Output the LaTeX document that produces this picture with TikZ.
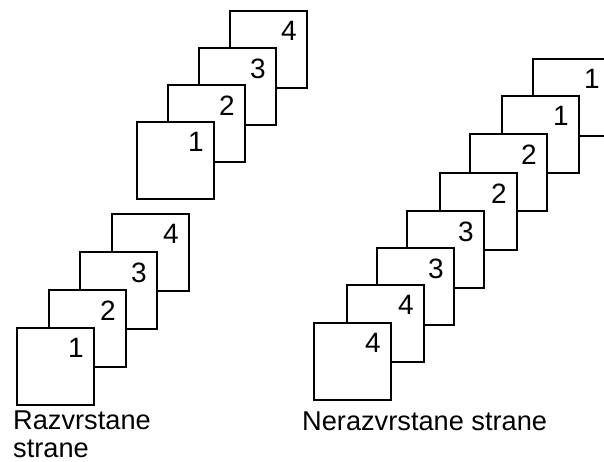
\documentclass[tikz,border=0pt]{standalone}
\usepackage{fontspec}
\setmainfont{Liberation Sans}
\usetikzlibrary{positioning}

\begin{document}
\begin{tikzpicture}[x=1pt, y=-1pt,
  every node/.style = {font=\fontsize{27.2}{28}\selectfont},
  page/.style    = {rectangle, draw, line width=1.6pt, fill=white,
                    minimum size=77pt, inner sep=0pt, outer sep=0pt,
                    anchor=north west},
  num/.style     = {anchor=north east, inner sep=0pt,
                    font=\fontsize{28}{30}\selectfont,
                    xshift=-10pt, yshift=-10.5pt},
  caption/.style = {anchor=base west, inner sep=0pt, align=left},
]
  \useasboundingbox (0,0) rectangle (604,462);
  \clip (0,0) rectangle (604,462);

  % upper stack
  \node[page, label={[num]north east:4}] (t4) at (230,11) {};
  \node[page, label={[num]north east:3}] (t3) at (199,48) {};
  \node[page, label={[num]north east:2}] (t2) at (168,85) {};
  \node[page, label={[num]north east:1}] (t1) at (137,122) {};

  % sorted pages
  \node[page, label={[num]north east:4}] (r4) at (112,214) {};
  \node[page, label={[num]north east:3}] (r3) at (80,252) {};
  \node[page, label={[num]north east:2}] (r2) at (49,290) {};
  \node[page, label={[num]north east:1}] (r1) at (17,328) {};
  % base sits on the last line here
  \node[caption] (sorted) at (13,457) {Razvrstane\\strane};

  % unsorted pages
  \node[page, label={[num]north east:1}] (n8) at (533,59) {};
  \node[page, label={[num]north east:1}] (n7) at (502,96) {};
  \node[page, label={[num]north east:2}] (n6) at (470,134) {};
  \node[page, label={[num]north east:2}] (n5) at (440,173) {};
  \node[page, label={[num]north east:3}] (n4) at (407,211) {};
  \node[page, label={[num]north east:3}] (n3) at (377,248) {};
  \node[page, label={[num]north east:4}] (n2) at (347,285) {};
  \node[page, label={[num]north east:4}] (n1) at (314,323) {};
  \node[caption] (unsorted) at (302,430) {Nerazvrstane strane};
\end{tikzpicture}
\end{document}
